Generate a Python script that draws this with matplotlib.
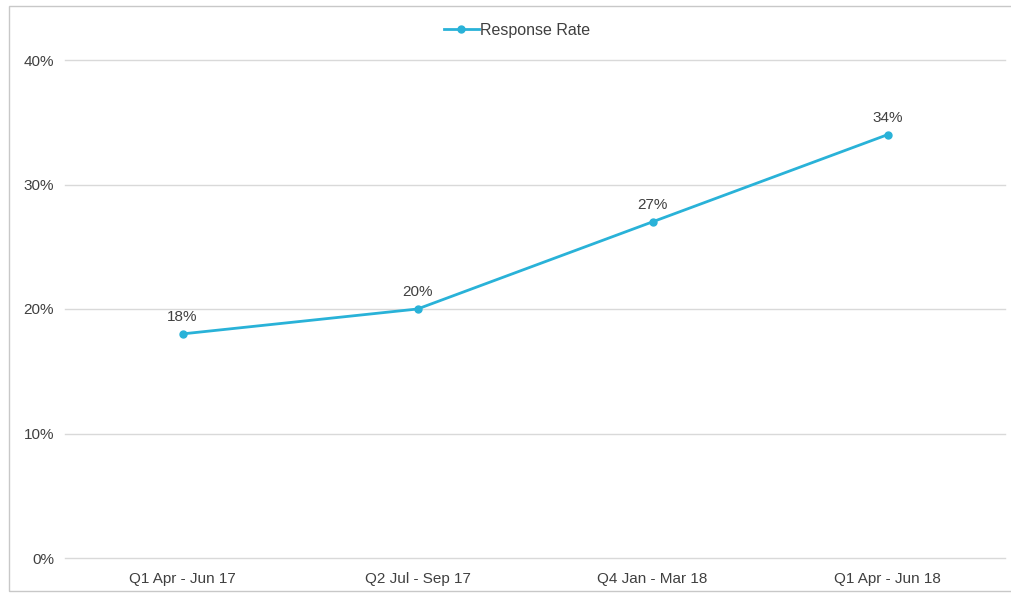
import matplotlib
matplotlib.use("Agg")
import matplotlib.pyplot as plt
from matplotlib.ticker import FuncFormatter
from matplotlib.patches import Rectangle

categories = ["Q1 Apr - Jun 17", "Q2 Jul - Sep 17", "Q4 Jan - Mar 18", "Q1 Apr - Jun 18"]
response_rate = [0.18, 0.20, 0.27, 0.34]
series_name = "Response Rate"
y_ticks = [0.0, 0.1, 0.2, 0.3, 0.4]

plt.rcParams['font.family'] = ['Liberation Sans', 'DejaVu Sans']
W, H = 1011, 593
fig = plt.figure(figsize=(W / 100, H / 100), dpi=100)
fig.patch.set_facecolor("white")

# outer frame
fig.patches.append(Rectangle((9 / W, (H - 591) / H), 1.2, (591 - 6) / H,
                             transform=fig.transFigure, fill=False,
                             edgecolor="#c8c8c8", linewidth=1.0))

ax = fig.add_axes([65 / W, (H - 558) / H, (1005 - 65) / W, (558 - 60) / H])
color = "#29b2d8"
x = list(range(len(categories)))
ax.plot(x, response_rate, color=color, linewidth=2.0, marker="o",
        markersize=5, label=series_name, zorder=3)
for xi, v in zip(x, response_rate):
    ax.annotate(f"{v*100:.0f}%", (xi, v), xytext=(0, 7), textcoords="offset points",
                ha="center", va="bottom", fontsize=11, color="#404040")

ax.set_xlim(-0.5, len(categories) - 0.5)
ax.set_ylim(0, 0.4)
ax.set_yticks(y_ticks)
ax.yaxis.set_major_formatter(FuncFormatter(lambda v, p: f"{v*100:.0f}%"))
ax.set_xticks(x)
ax.set_xticklabels(categories)
ax.grid(axis="y", color="#d9d9d9", linewidth=1.0)
for gl in ax.get_ygridlines():
    gl.set_clip_on(False)
ax.set_axisbelow(True)
for s in ax.spines.values():
    s.set_visible(False)
ax.tick_params(axis="both", length=0, labelsize=11, colors="#404040")
ax.tick_params(axis="y", pad=8)
ax.tick_params(axis="x", pad=10)

fig.legend(loc="center", bbox_to_anchor=(517 / W, (H - 30) / H), frameon=False,
           fontsize=11.5, handlelength=2.2, handletextpad=0.1,
           labelcolor="#404040")

fig.savefig("out.png", dpi=100)
